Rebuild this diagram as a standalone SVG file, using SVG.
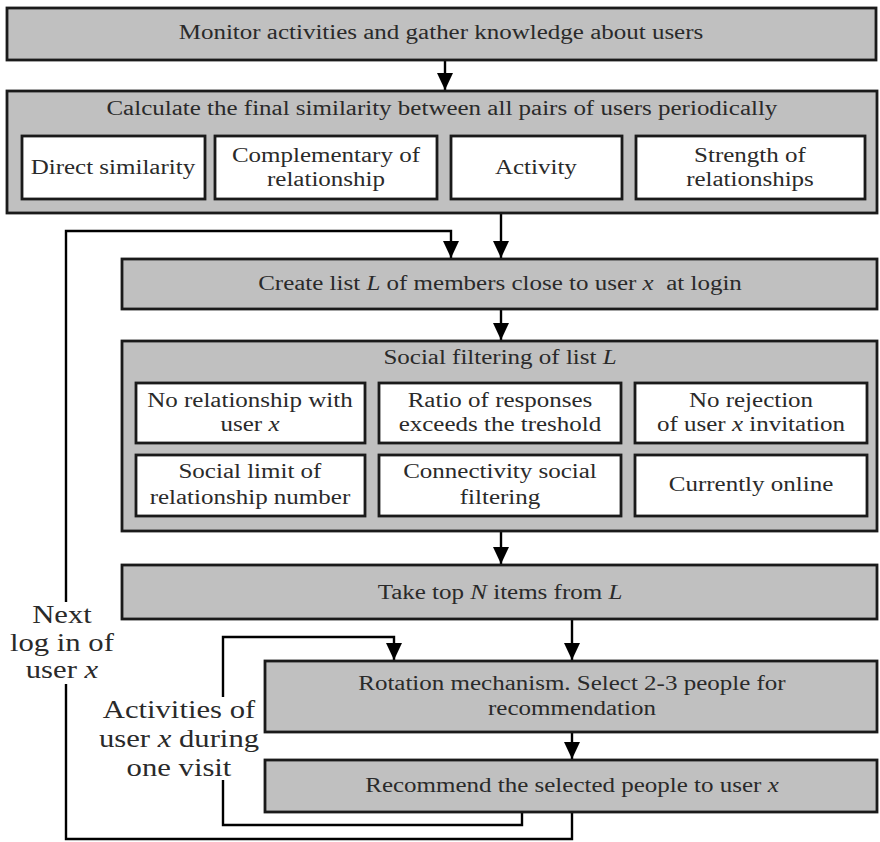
<svg xmlns="http://www.w3.org/2000/svg" width="880" height="842" viewBox="0 0 880 842">
<defs>
<marker id="ah" viewBox="0 0 17 16" refX="17" refY="8" markerWidth="17" markerHeight="16" markerUnits="userSpaceOnUse" orient="auto">
<path d="M0,0 L17,8 L0,16 Z" fill="#000"/>
</marker>
<style>
.g{fill:#c0c0c0;stroke:#1a1a1a;stroke-width:2.8}
.w{fill:#fff;stroke:#1a1a1a;stroke-width:2.8}
text{font-family:"Liberation Serif","Times New Roman",serif;font-size:20px;fill:#2a2a2a;text-anchor:middle;transform-box:fill-box;transform-origin:center;transform:scaleX(1.25)}
.big{font-size:26px;transform:scaleX(1.18)}
.c{fill:none;stroke:#000;stroke-width:2.4}
.i{font-style:italic}
</style>
</defs>
<rect width="880" height="842" fill="#fff"/>
<g id="connectors">
<line class="c" x1="445" y1="60" x2="445" y2="90" marker-end="url(#ah)"/>
<line class="c" x1="501" y1="213" x2="501" y2="258" marker-end="url(#ah)"/>
<polyline class="c" points="66,602 66,231 451,231 451,258" marker-end="url(#ah)"/>
<line class="c" x1="501" y1="309" x2="501" y2="340" marker-end="url(#ah)"/>
<line class="c" x1="501" y1="531" x2="501" y2="564" marker-end="url(#ah)"/>
<line class="c" x1="572" y1="619" x2="572" y2="660" marker-end="url(#ah)"/>
<line class="c" x1="572" y1="732" x2="572" y2="759" marker-end="url(#ah)"/>
<polyline class="c" points="572,812 572,839 66,839 66,684"/>
<polyline class="c" points="522,812 522,825 223,825 223,780"/>
<polyline class="c" points="223,697 223,637 394,637 394,660" marker-end="url(#ah)"/>
</g>
<g id="n1">
<rect class="g" x="7" y="8" width="869" height="52"/>
<text x="441" y="39">Monitor activities and gather knowledge about users</text>
</g>
<g id="n2">
<rect class="g" x="7" y="91" width="870" height="122"/>
<text x="442" y="115">Calculate the final similarity between all pairs of users periodically</text>
</g>
<g id="n2a"><rect class="w" x="22" y="136" width="183" height="63"/><text x="113" y="174">Direct similarity</text></g>
<g id="n2b"><rect class="w" x="215" y="136" width="222" height="63"/><text x="326" y="162">Complementary of</text><text x="326" y="186">relationship</text></g>
<g id="n2c"><rect class="w" x="451" y="136" width="171" height="63"/><text x="536" y="174">Activity</text></g>
<g id="n2d"><rect class="w" x="636" y="136" width="229" height="63"/><text x="750" y="162">Strength of</text><text x="750" y="186">relationships</text></g>
<g id="n3">
<rect class="g" x="122" y="259" width="755" height="50"/>
<text x="500" y="290" style="white-space:pre">Create list <tspan class="i">L</tspan> of members close to user <tspan class="i">x</tspan>  at login</text>
</g>
<g id="n4">
<rect class="g" x="122" y="341" width="755" height="190"/>
<text x="500" y="364">Social filtering of list <tspan class="i">L</tspan></text>
</g>
<g id="n4a"><rect class="w" x="136" y="383" width="229" height="60"/><text x="250" y="407">No relationship with</text><text x="250" y="431">user <tspan class="i">x</tspan></text></g>
<g id="n4b"><rect class="w" x="379" y="383" width="242" height="60"/><text x="500" y="407">Ratio of responses</text><text x="500" y="431">exceeds the treshold</text></g>
<g id="n4c"><rect class="w" x="635" y="383" width="232" height="60"/><text x="751" y="407">No rejection</text><text x="751" y="431">of user <tspan class="i">x</tspan> invitation</text></g>
<g id="n4d"><rect class="w" x="136" y="455" width="229" height="61"/><text x="250" y="478">Social limit of</text><text x="250" y="504">relationship number</text></g>
<g id="n4e"><rect class="w" x="379" y="455" width="242" height="61"/><text x="500" y="478">Connectivity social</text><text x="500" y="504">filtering</text></g>
<g id="n4f"><rect class="w" x="635" y="455" width="232" height="61"/><text x="751" y="491">Currently online</text></g>
<g id="n5">
<rect class="g" x="122" y="565" width="755" height="54"/>
<text x="500" y="599">Take top <tspan class="i">N</tspan> items from <tspan class="i">L</tspan></text>
</g>
<g id="n6">
<rect class="g" x="265" y="661" width="612" height="71"/>
<text x="572" y="690">Rotation mechanism. Select 2-3 people for</text>
<text x="572" y="715">recommendation</text>
</g>
<g id="n7">
<rect class="g" x="265" y="760" width="612" height="52"/>
<text x="572" y="792">Recommend the selected people to user <tspan class="i">x</tspan></text>
</g>
<g id="lbl1">
<text class="big" x="62" y="623">Next</text>
<text class="big" x="62" y="651">log in of</text>
<text class="big" x="62" y="678">user <tspan class="i">x</tspan></text>
</g>
<g id="lbl2">
<text class="big" x="179" y="718">Activities of</text>
<text class="big" x="179" y="747">user <tspan class="i">x</tspan> during</text>
<text class="big" x="179" y="776">one visit</text>
</g>
</svg>
